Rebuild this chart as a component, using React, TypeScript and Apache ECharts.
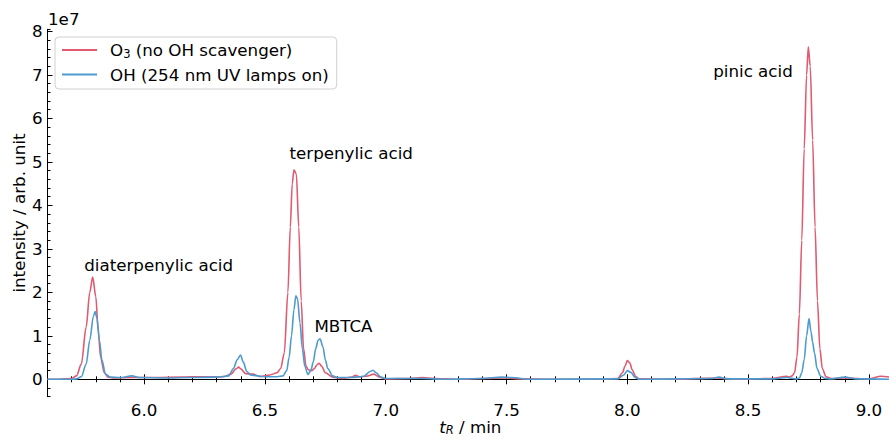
import React, { useEffect, useRef } from "react";
import * as echarts from "echarts";

// retention time (min) and intensity (units of 1e7) for the O3 run
const o3Time = [
  5.6, 5.65, 5.7, 5.72, 5.74, 5.76, 5.775, 5.787, 5.8, 5.81, 5.82, 5.835, 5.85, 5.87,
  5.95, 6.05, 6.15, 6.25, 6.33, 6.36, 6.38, 6.391, 6.4, 6.42, 6.45, 6.48, 6.52, 6.55,
  6.565, 6.58, 6.595, 6.605, 6.613, 6.62, 6.63, 6.64, 6.65, 6.66, 6.67, 6.68, 6.695,
  6.705, 6.715, 6.724, 6.735, 6.75, 6.78, 6.82, 6.86, 6.875, 6.89, 6.92, 6.95, 6.975,
  7.0, 7.1, 7.15, 7.2, 7.3, 7.4, 7.5, 7.55, 7.7, 7.9, 7.96, 7.98, 7.99, 8.0, 8.01, 8.02,
  8.035, 8.05, 8.2, 8.37, 8.45, 8.6, 8.66, 8.672, 8.682, 8.692, 8.702, 8.712, 8.722, 8.732,
  8.742, 8.749, 8.757, 8.767, 8.777, 8.787, 8.797, 8.807, 8.822, 8.842, 8.9, 9.0, 9.05, 9.1,
];
const o3Intensity = [
  0.0, 0.0, 0.02, 0.08, 0.35, 1.2, 2.0, 2.35, 1.9, 1.1, 0.5, 0.15, 0.05, 0.03,
  0.04, 0.04, 0.05, 0.06, 0.06, 0.12, 0.24, 0.28, 0.24, 0.13, 0.12, 0.06, 0.1, 0.15,
  0.25, 0.6, 2.0, 3.5, 4.5, 4.82, 4.72, 3.5, 1.8, 0.7, 0.3, 0.22, 0.2,
  0.25, 0.33, 0.37, 0.3, 0.15, 0.05, 0.02, 0.05, 0.09, 0.06, 0.07, 0.12, 0.05,
  0.01, 0.02, 0.04, 0.02, 0.0, 0.02, 0.03, 0.01, 0.0, 0.0, 0.02, 0.15, 0.3, 0.43, 0.38, 0.22,
  0.06, 0.01, 0.0, 0.03, 0.0, 0.02, 0.07, 0.05, 0.08, 0.15, 0.5, 1.5, 3.2, 5.3,
  7.0, 7.65, 7.2, 5.5, 3.5, 1.8, 0.7, 0.25, 0.06, 0.02, 0.03, 0.01, 0.07, 0.04,
];

// retention time (min) and intensity (units of 1e7) for the OH run
const ohTime = [
  5.6, 5.7, 5.72, 5.74, 5.76, 5.775, 5.79, 5.797, 5.805, 5.815, 5.825, 5.84, 5.86,
  5.9, 5.95, 5.98, 6.1, 6.2, 6.3, 6.35, 6.37, 6.385, 6.399, 6.41, 6.425, 6.44, 6.47,
  6.5, 6.55, 6.575, 6.59, 6.6, 6.61, 6.62, 6.628, 6.635, 6.645, 6.655, 6.665, 6.678,
  6.69, 6.7, 6.71, 6.72, 6.728, 6.74, 6.75, 6.76, 6.78, 6.8, 6.85, 6.88, 6.91, 6.935,
  6.948, 6.96, 6.98, 7.0, 7.15, 7.25, 7.4, 7.48, 7.52, 7.6, 7.96, 7.985, 8.0, 8.015,
  8.03, 8.05, 8.35, 8.38, 8.41, 8.6, 8.66, 8.7, 8.712, 8.722, 8.732, 8.742, 8.752, 8.76,
  8.767, 8.775, 8.785, 8.8, 8.82, 8.84, 8.9, 8.95, 9.1,
];
const ohIntensity = [
  0.0, 0.0, 0.01, 0.06, 0.35, 0.9, 1.45, 1.56, 1.4, 0.9, 0.45, 0.12, 0.05,
  0.04, 0.08, 0.04, 0.03, 0.04, 0.05, 0.08, 0.25, 0.45, 0.56, 0.4, 0.18, 0.1, 0.08,
  0.06, 0.06, 0.08, 0.2, 0.5, 1.0, 1.6, 1.92, 1.85, 1.3, 0.7, 0.3, 0.11,
  0.2, 0.4, 0.7, 0.9, 0.93, 0.75, 0.45, 0.25, 0.08, 0.04, 0.04, 0.05, 0.07, 0.18,
  0.21, 0.15, 0.05, 0.02, 0.02, 0.0, 0.02, 0.05, 0.04, 0.0, 0.01, 0.1, 0.2, 0.16,
  0.05, 0.0, 0.02, 0.05, 0.01, 0.01, 0.04, 0.01, 0.03, 0.15, 0.45, 1.0, 1.4, 1.1,
  0.85, 0.6, 0.25, 0.07, 0.02, 0.01, 0.05, 0.01, 0.0,
];

const seriesNames = ["O3 (no OH scavenger)", "OH (254 nm UV lamps on)"];
const xMajorTicks = [6.0, 6.5, 7.0, 7.5, 8.0, 8.5, 9.0];
const yMajorTicks = [0, 1, 2, 3, 4, 5, 6, 7, 8];

// annotation labels: [text, time, intensity(1e7)]
const annotations: [string, number, number][] = [
  ["diaterpenylic acid", 6.06, 2.62],
  ["terpenylic acid", 6.857, 5.21],
  ["MBTCA", 6.825, 1.22],
  ["pinic acid", 8.52, 7.08],
];

const RED = "#e15a70";
const BLUE = "#4d9bcf";
const FONT = "DejaVu Sans";
const FS = 16.7;

export default function App() {
  const ref = useRef<HTMLDivElement>(null);
  useEffect(() => {
    if (!ref.current) return;
    const chart = echarts.init(ref.current, undefined, { renderer: "svg" });
    const X_MIN = 5.6, X_MAX = 9.1, Y_MIN = -0.4, Y_MAX = 8.05;
    const axisLine = { show: true, lineStyle: { color: "#000", width: 1 } };
    const mkX = (position: "top" | "bottom", major: boolean) => ({
      type: "value",
      position,
      min: X_MIN,
      max: X_MAX,
      ...(major ? {} : { interval: 0.1 }),
      axisLine: major ? axisLine : { show: false },
      axisTick: major
        ? { show: true, inside: true, length: 5, customValues: xMajorTicks, lineStyle: { color: "#000" } }
        : { show: true, inside: true, length: 3, lineStyle: { color: "#000" } },
      axisLabel: major && position === "bottom"
        ? { show: true, customValues: xMajorTicks, formatter: (v: number) => v.toFixed(1), fontFamily: FONT, fontSize: FS, color: "#000", margin: 5 }
        : { show: false },
      splitLine: { show: false },
      ...(major && position === "bottom"
        ? {
            name: "{i|t}{s|R} / min",
            nameLocation: "middle",
            nameGap: 21,
            nameMoveOverlap: false,
            nameTextStyle: {
              fontFamily: FONT, fontSize: FS, color: "#000",
              rich: {
                i: { fontFamily: FONT, fontSize: FS, fontStyle: "italic", color: "#000" },
                s: { fontFamily: FONT, fontSize: 11.5, fontStyle: "italic", color: "#000", padding: [6, 0, 0, 0] },
              },
            },
          }
        : {}),
    });
    const mkY = (position: "left" | "right", major: boolean) => ({
      type: "value",
      position,
      min: Y_MIN,
      max: Y_MAX,
      ...(major ? {} : { interval: 0.2 }),
      axisLine: major && position === "left" ? axisLine : { show: false },
      axisTick: major
        ? { show: position === "left", inside: true, length: 5, customValues: yMajorTicks, lineStyle: { color: "#000" } }
        : { show: position === "left", inside: true, length: 3, lineStyle: { color: "#000" } },
      axisLabel: major && position === "left"
        ? { show: true, customValues: yMajorTicks, formatter: (v: number) => String(Math.round(v)), fontFamily: FONT, fontSize: FS, color: "#000", margin: 5 }
        : { show: false },
      splitLine: { show: false },
      ...(major && position === "left"
        ? {
            name: "intensity / arb. unit",
            nameLocation: "middle",
            nameGap: 20,
            nameMoveOverlap: false,
            nameTextStyle: { fontFamily: FONT, fontSize: FS, color: "#000" },
          }
        : {}),
    });

    chart.setOption({
      animation: false,
      backgroundColor: "#fff",
      grid: { left: 47.5, top: 29.3, width: 845.6, height: 367.4, containLabel: false, outerBoundsMode: "none" },
      xAxis: [mkX("bottom", true), mkX("bottom", false), mkX("top", true), mkX("top", false)],
      yAxis: [mkY("left", true), mkY("left", false), mkY("right", true), mkY("right", false)],
      legend: {
        orient: "vertical",
        left: 55,
        top: 37,
        padding: [3, 8, 6, 7],
        itemGap: 6,
        itemWidth: 35,
        itemHeight: 2,
        borderColor: "#d0d0d0",
        borderWidth: 1,
        borderRadius: 4,
        backgroundColor: "rgba(255,255,255,0.8)",
        data: [
          { name: seriesNames[0], icon: "rect" },
          { name: seriesNames[1], icon: "rect" },
        ],
        formatter: (name: string) =>
          name.startsWith("O3") ? "{t|O}{s|3}{t| (no OH scavenger)}" : "{t|" + name + "}",
        textStyle: {
          fontFamily: FONT,
          fontSize: FS,
          color: "#000",
          padding: [0, 0, 0, 8],
          rich: {
            t: { fontFamily: FONT, fontSize: FS, color: "#000", lineHeight: 20 },
            s: { fontFamily: FONT, fontSize: 11.5, color: "#000", lineHeight: 20, padding: [8, 0, 0, 0] },
          },
        },
      },
      graphic: [
        {
          type: "text",
          left: 48,
          top: 10,
          style: { text: "1e7", fontFamily: FONT, fontSize: FS, fill: "#000" },
        },
      ],
      series: [
        {
          name: seriesNames[0],
          type: "line",
          xAxisIndex: 0,
          yAxisIndex: 0,
          data: o3Time.map((t, i) => [t, o3Intensity[i]]),
          showSymbol: false,
          symbol: "none",
          smooth: 0.3,
          smoothMonotone: "x",
          lineStyle: { color: RED, width: 1.6 },
          itemStyle: { color: RED },
          clip: true,
          markPoint: {
            symbol: "circle",
            symbolSize: 0.1,
            itemStyle: { color: "rgba(0,0,0,0)" },
            label: {
              show: true,
              position: "inside",
              fontFamily: FONT,
              fontSize: FS,
              color: "#000",
              formatter: (p: any) => p.name,
            },
            data: annotations.map(([name, t, v]) => ({ name, coord: [t, v] })),
          },
        },
        {
          name: seriesNames[1],
          type: "line",
          xAxisIndex: 0,
          yAxisIndex: 0,
          data: ohTime.map((t, i) => [t, ohIntensity[i]]),
          showSymbol: false,
          symbol: "none",
          smooth: 0.3,
          smoothMonotone: "x",
          lineStyle: { color: BLUE, width: 1.6 },
          itemStyle: { color: BLUE },
          clip: true,
        },
      ],
    });
    return () => chart.dispose();
  }, []);
  return <div ref={ref} style={{ width: 889, height: 440, position: "absolute", left: 0, top: 0 }} />;
}
